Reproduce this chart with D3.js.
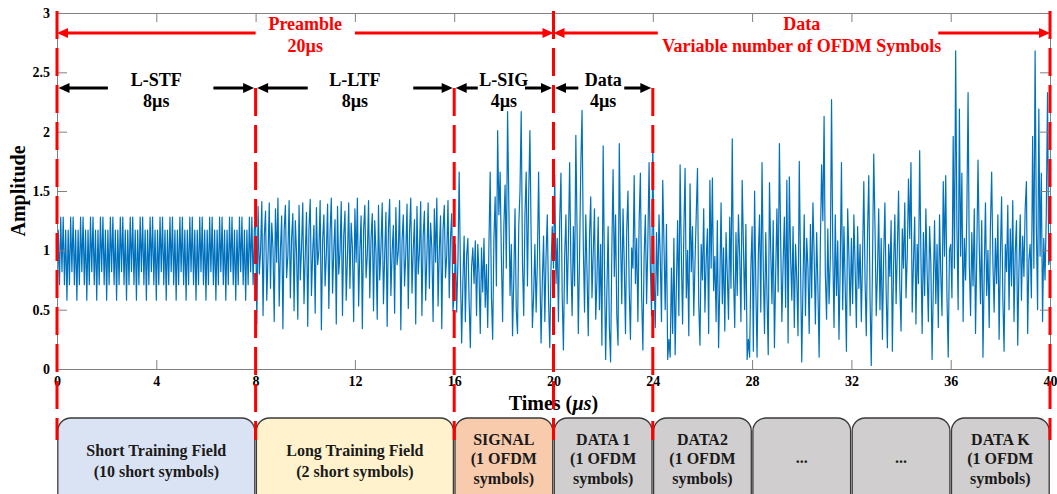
<!DOCTYPE html>
<html><head><meta charset="utf-8">
<script src="https://cdn.jsdelivr.net/npm/d3@7"></script>
<style>
html,body{margin:0;padding:0;background:#fff;}
svg{display:block;font-family:"Liberation Serif","Times New Roman",serif;}
</style></head><body>
<svg id="chart" width="1057" height="494"></svg>
<script>
// ---------------- DATA ----------------
const sampleStep = 0.05; // µs per sample (20 MHz)

// L-STF, 0-8 µs (160 samples)
const stfAmp = [
0.58,1.17,0.71,1.28,0.82,1.28,0.71,1.17, 0.58,1.17,0.71,1.28,0.82,1.28,0.71,1.17,
0.58,1.17,0.71,1.28,0.82,1.28,0.71,1.17, 0.58,1.17,0.71,1.28,0.82,1.28,0.71,1.17,
0.58,1.17,0.71,1.28,0.82,1.28,0.71,1.17, 0.58,1.17,0.71,1.28,0.82,1.28,0.71,1.17,
0.58,1.17,0.71,1.28,0.82,1.28,0.71,1.17, 0.58,1.17,0.71,1.28,0.82,1.28,0.71,1.17,
0.58,1.17,0.71,1.28,0.82,1.28,0.71,1.17, 0.58,1.17,0.71,1.28,0.82,1.28,0.71,1.17,
0.58,1.17,0.71,1.28,0.82,1.28,0.71,1.17, 0.58,1.17,0.71,1.28,0.82,1.28,0.71,1.17,
0.58,1.17,0.71,1.28,0.82,1.28,0.71,1.17, 0.58,1.17,0.71,1.28,0.82,1.28,0.71,1.17,
0.58,1.17,0.71,1.28,0.82,1.28,0.71,1.17, 0.58,1.17,0.71,1.28,0.82,1.28,0.71,1.17,
0.58,1.17,0.71,1.28,0.82,1.28,0.71,1.17, 0.58,1.17,0.71,1.28,0.82,1.28,0.71,1.17,
0.58,1.17,0.71,1.28,0.82,1.28,0.71,1.17, 0.58,1.17,0.71,1.28,0.82,1.28,0.71,1.17
];

// L-LTF, 8-16 µs (160 samples)
const ltfAmp = [
1.26,0.38,1.37,0.80,0.99,1.41,0.45,1.12,1.33,0.58,0.95,1.40,0.68,1.23,1.02,0.40,
1.35,0.90,1.44,0.53,1.00,1.29,0.34,1.17,1.38,0.77,0.96,1.42,0.60,1.10,1.31,0.49,
1.25,0.98,0.42,1.38,0.75,1.02,1.40,0.55,0.96,1.32,0.36,1.18,1.43,0.62,0.99,1.21,
0.47,1.36,0.88,1.00,1.42,0.33,1.08,1.30,0.70,0.97,1.39,0.51,1.15,1.44,0.64,1.01,
1.26,0.38,1.37,0.80,0.99,1.41,0.45,1.12,1.33,0.58,0.95,1.40,0.68,1.23,1.02,0.40,
1.35,0.90,1.44,0.53,1.00,1.29,0.34,1.17,1.38,0.77,0.96,1.42,0.60,1.10,1.31,0.49,
1.25,0.98,0.42,1.38,0.75,1.02,1.40,0.55,0.96,1.32,0.36,1.18,1.43,0.62,0.99,1.21,
0.47,1.36,0.88,1.00,1.42,0.33,1.08,1.30,0.70,0.97,1.39,0.51,1.15,1.44,0.64,1.01,
1.26,0.38,1.37,0.80,0.99,1.41,0.45,1.12,1.33,0.58,0.95,1.40,0.68,1.23,1.02,0.40,
1.35,0.90,1.44,0.53,1.00,1.29,0.34,1.17,1.38,0.77,0.96,1.42,0.60,1.10,1.31,0.49
];

// L-SIG, 16-20 µs (80 samples)
const sigAmp = [
0.62,1.05,0.48,0.90,1.66,0.85,0.22,0.74,1.12,0.40,0.95,1.10,0.58,0.18,0.86,1.02,
0.72,1.08,0.45,1.05,0.80,0.30,1.02,0.65,1.10,0.52,0.88,0.35,1.05,1.66,0.60,0.25,
1.10,1.45,0.70,2.01,1.30,1.66,0.95,0.40,1.20,1.55,0.85,2.17,1.40,0.62,1.05,0.28,
0.75,1.35,0.50,0.30,1.20,1.50,2.17,0.90,0.45,1.30,1.66,0.70,1.45,2.01,1.10,0.35,
0.62,1.05,0.48,0.90,1.66,0.85,0.22,0.74,1.12,0.40,0.95,1.30,0.58,0.18,0.86,1.20
];

// Data symbols, 20-40 µs (401 samples)
const dataAmp = [
// DATA 1 (20-24)
0.85,1.63,0.72,1.10,0.40,1.25,1.65,0.62,0.16,0.95,1.30,0.55,1.05,1.74,0.88,0.45,
1.20,0.70,1.97,1.15,0.30,0.95,1.72,2.18,1.05,0.48,1.30,0.82,0.28,1.12,1.45,0.60,
0.98,1.35,0.42,0.75,1.28,0.50,1.05,0.20,1.88,0.90,0.08,0.65,1.20,0.35,0.06,1.00,
1.68,0.78,1.30,0.45,0.20,1.90,1.10,0.55,1.35,0.88,0.30,1.18,1.50,0.66,0.25,1.02,
0.85,1.63,0.72,1.10,0.40,1.25,1.65,0.62,0.16,0.95,1.30,0.55,1.05,1.74,0.88,0.45,
// DATA 2 (24-28)
1.94,0.80,0.35,1.15,0.62,1.30,0.95,0.40,1.59,1.05,0.50,1.22,0.08,0.25,0.10,0.85,
0.30,1.10,0.12,0.70,1.25,0.45,1.72,0.95,0.38,1.15,1.69,0.60,1.00,0.28,1.56,0.82,
1.20,0.45,0.90,1.30,1.69,0.55,0.20,1.05,0.75,1.35,0.48,0.92,1.18,0.30,1.59,0.85,
1.61,0.66,0.95,0.40,1.25,0.18,0.72,1.40,0.55,1.02,0.32,1.15,0.80,0.42,1.28,0.68,
1.94,0.80,0.35,1.15,0.62,1.30,0.95,0.40,1.59,1.05,0.50,1.22,0.08,0.25,0.10,0.85,
// DATA 3 (28-32)
1.20,0.15,1.50,0.70,0.10,0.95,1.30,0.48,1.74,0.85,0.30,1.15,0.62,0.12,1.57,1.00,
0.55,1.25,0.18,0.80,1.35,0.65,1.90,1.10,0.40,0.90,1.28,0.52,1.59,0.22,1.62,0.95,
0.58,1.20,0.35,1.05,0.75,0.28,1.75,0.90,0.06,0.72,1.30,0.45,1.10,0.85,0.30,1.22,
0.60,1.40,0.95,0.38,1.15,0.70,0.10,1.05,1.72,1.25,2.13,0.80,0.42,1.18,0.55,0.92,
2.27,1.00,0.35,1.30,0.62,1.08,0.25,0.88,1.74,0.50,1.20,0.70,0.15,1.35,0.95,0.45,
// DATA 4 (32-36)
1.10,0.55,1.30,0.85,0.35,1.20,0.68,1.05,0.40,0.95,1.58,0.75,0.28,1.15,1.63,0.60,
0.03,0.90,1.81,1.20,0.45,0.82,1.35,0.50,1.10,0.25,0.95,1.40,0.65,0.18,1.05,0.78,
1.25,0.15,0.88,1.30,0.55,1.00,1.50,0.70,0.32,1.18,0.85,1.40,0.60,0.95,1.60,1.10,
1.74,0.48,0.90,1.28,0.38,1.05,0.72,1.84,0.95,0.30,1.15,0.62,1.35,0.82,0.40,1.20,
0.90,0.08,0.70,1.25,0.55,1.05,0.35,1.30,0.80,0.45,1.58,0.95,1.63,0.60,0.10,1.00,
// DATA K (36-40)
1.05,0.60,1.96,0.85,2.68,1.20,0.50,2.19,0.95,1.65,0.40,1.10,0.75,1.30,2.33,0.88,
0.45,1.15,0.70,1.35,0.30,0.95,1.76,1.05,0.55,1.25,0.10,0.80,1.40,0.62,1.00,0.35,
1.20,1.66,0.90,0.48,1.10,0.72,1.30,0.25,0.95,1.45,0.60,0.15,1.05,0.82,1.38,0.50,
1.18,0.70,1.42,0.40,0.98,1.25,0.20,0.85,1.30,0.58,1.12,0.78,1.35,1.58,0.30,0.92,
1.05,0.60,1.96,0.85,2.68,1.20,0.50,2.19,0.95,1.65,0.40,1.10,0.75,1.30,2.33,0.88,
0.95
];

const xTicks = [0,4,8,12,16,20,24,28,32,36,40];
const yTicks = [0,0.5,1,1.5,2,2.5,3];
const xLabelMain = "Times (";
const xLabelUnit = "\u00b5s";
const yLabel = "Amplitude";

// red dashed boundaries (µs) and whether they reach the top of the axes
const boundaryTimes = [0, 8, 16, 20, 24, 40];
const boundaryFull  = [true, false, false, true, false, true];

// red spans (top annotations)
const spanStart = [0, 20];
const spanEnd   = [20, 40];
const spanTitle = ["Preamble", "Data"];
const spanSub   = ["20\u00b5s", "Variable number of OFDM Symbols"];

// black field spans
const fieldStart = [0, 8, 16, 20];
const fieldEnd   = [8, 16, 20, 24];
const fieldName  = ["L-STF", "L-LTF", "L-SIG", "Data"];
const fieldDur   = ["8\u00b5s", "8\u00b5s", "4\u00b5s", "4\u00b5s"];

// bottom boxes
const boxStart = [0, 8, 16, 20, 24, 28, 32, 36];
const boxEnd   = [8, 16, 20, 24, 28, 32, 36, 40];
const boxText  = [
  ["Short Training Field", "(10 short symbols)"],
  ["Long Training Field", "(2 short symbols)"],
  ["SIGNAL", "(1 OFDM", "symbols)"],
  ["DATA 1", "(1 OFDM", "symbols)"],
  ["DATA2", "(1 OFDM", "symbols)"],
  ["..."],
  ["..."],
  ["DATA K", "(1 OFDM", "symbols)"]
];
const boxFill = ["#dae3f3", "#fff2cc", "#f8cbad", "#d0cece", "#d0cece", "#d0cece", "#d0cece", "#d0cece"];

// ---------------- DRAW ----------------
const svg = d3.select("#chart");
const x = d3.scaleLinear().domain([0, 40]).range([57, 1050]);
const y = d3.scaleLinear().domain([0, 3]).range([369, 13]);
const axisColor = "#808080";

const amplitude = [].concat(stfAmp, ltfAmp, sigAmp, dataAmp);
const series = amplitude.map((v, i) => ({t: i * sampleStep, v}));

// clip
svg.append("defs").append("clipPath").attr("id", "plotClip")
  .append("rect").attr("x", x(0)).attr("y", y(3)).attr("width", x(40) - x(0)).attr("height", y(0) - y(3));

// signal
svg.append("path")
  .datum(series)
  .attr("clip-path", "url(#plotClip)")
  .attr("fill", "none")
  .attr("stroke", "#0072bd")
  .attr("stroke-width", 1.2)
  .attr("stroke-linejoin", "round")
  .attr("d", d3.line().x(d => x(d.t)).y(d => y(d.v)));

// axes
function styleAxis(g, fs) {
  g.select(".domain").attr("stroke", axisColor).attr("stroke-width", 1);
  g.selectAll(".tick line").attr("stroke", axisColor).attr("stroke-width", 1);
  g.selectAll(".tick text").attr("fill", "#000").attr("font-size", fs).attr("font-weight", "bold")
    .attr("font-family", '"Liberation Serif","Times New Roman",serif');
}
svg.append("g").attr("transform", `translate(0,${y(0)})`)
  .call(d3.axisBottom(x).tickValues(xTicks).tickSizeInner(-9).tickSizeOuter(0).tickPadding(7).tickFormat(d3.format("d")))
  .call(g => styleAxis(g, 14));
svg.append("g").attr("transform", `translate(0,${y(3)})`)
  .call(d3.axisTop(x).tickValues(xTicks).tickSizeInner(-9).tickSizeOuter(0).tickFormat(""))
  .call(g => styleAxis(g, 14));
svg.append("g").attr("transform", `translate(${x(0)},0)`)
  .call(d3.axisLeft(y).tickValues(yTicks).tickSizeInner(-10).tickSizeOuter(0).tickPadding(7).tickFormat(d => String(d)))
  .call(g => styleAxis(g, 14));
svg.append("g").attr("transform", `translate(${x(40)},0)`)
  .call(d3.axisRight(y).tickValues(yTicks).tickSizeInner(-10).tickSizeOuter(0).tickFormat(""))
  .call(g => styleAxis(g, 14));

// axis labels
const xl = svg.append("text").attr("x", (x(0) + x(40)) / 2).attr("y", 410)
  .attr("text-anchor", "middle").attr("font-size", 20).attr("font-weight", "bold").attr("fill", "#000");
xl.append("tspan").text(xLabelMain);
xl.append("tspan").attr("font-style", "italic").text(xLabelUnit);
xl.append("tspan").text(")");
svg.append("text").attr("transform", `translate(25,${(y(0) + y(3)) / 2}) rotate(-90)`)
  .attr("text-anchor", "middle").attr("font-size", 20).attr("font-weight", "bold").attr("fill", "#000")
  .text(yLabel);

// bottom boxes
const boxTop = 418;
const boxG = svg.append("g");
boxStart.forEach((s, i) => {
  const x0 = x(s) + 0.8, x1 = x(boxEnd[i]) - 0.8;
  boxG.append("rect").attr("x", x0).attr("y", boxTop).attr("width", x1 - x0).attr("height", 100)
    .attr("rx", 13).attr("ry", 13).attr("fill", boxFill[i]).attr("stroke", "#3a3a3a").attr("stroke-width", 1.3);
  const lines = boxText[i];
  const cx = (x0 + x1) / 2;
  let ys;
  if (lines.length === 3) ys = [445, 464, 484];
  else if (lines.length === 2) ys = [456, 477];
  else ys = [463];
  lines.forEach((ln, j) => {
    boxG.append("text").attr("x", cx).attr("y", ys[j]).attr("text-anchor", "middle")
      .attr("font-size", 16).attr("font-weight", "bold").attr("fill", "#1a1a1a").text(ln);
  });
});

// arrow helpers
function arrowHead(g, xe, yy, dir, color) {
  const L = 11, H = 5;
  g.append("path").attr("d", `M${xe},${yy} L${xe - dir * L},${yy - H} L${xe - dir * L},${yy + H} Z`).attr("fill", color);
}
function segArrow(g, xs, xe, yy, color, width) {
  const dir = xe > xs ? 1 : -1;
  g.append("line").attr("x1", xs).attr("x2", xe - dir * 8).attr("y1", yy).attr("y2", yy)
    .attr("stroke", color).attr("stroke-width", width);
  arrowHead(g, xe, yy, dir, color);
}

// red spans
const red = "#ff0000";
const redG = svg.append("g");
const redY = 33;
spanStart.forEach((s, i) => {
  const e = spanEnd[i];
  const mid = i === 0 ? 10 : 30;
  const leftEnd = i === 0 ? 8 : 24.2;
  const rightStart = i === 0 ? 12 : 35.5;
  segArrow(redG, x(leftEnd), x(s), redY, red, 3);
  segArrow(redG, x(rightStart), x(e), redY, red, 3);
  redG.append("text").attr("x", x(mid)).attr("y", 30).attr("text-anchor", "middle")
    .attr("font-size", 18).attr("font-weight", "bold").attr("fill", red).text(spanTitle[i]);
  redG.append("text").attr("x", x(mid)).attr("y", 52).attr("text-anchor", "middle")
    .attr("font-size", 18).attr("font-weight", "bold").attr("fill", red).text(spanSub[i]);
});

// black field spans
const blkG = svg.append("g");
const blkY = 88;
const fieldTextT = [4, 12, 18, 22];
const fieldLeftEnd = [2.05, 10.1, 16.95, 21.0];
const fieldRightStart = [6.3, 14.35, 18.85, 22.85];
fieldStart.forEach((s, i) => {
  segArrow(blkG, x(fieldLeftEnd[i]), x(s) + 1.5, blkY, "#000", 3);
  segArrow(blkG, x(fieldRightStart[i]), x(fieldEnd[i]) - 1.5, blkY, "#000", 3);
  blkG.append("text").attr("x", x(fieldTextT[i])).attr("y", 86).attr("text-anchor", "middle")
    .attr("font-size", 18).attr("font-weight", "bold").attr("fill", "#000").text(fieldName[i]);
  blkG.append("text").attr("x", x(fieldTextT[i])).attr("y", 107).attr("text-anchor", "middle")
    .attr("font-size", 18).attr("font-weight", "bold").attr("fill", "#000").text(fieldDur[i]);
});

// red dashed boundary lines
boundaryTimes.forEach((t, i) => {
  svg.append("line").attr("x1", x(t)).attr("x2", x(t))
    .attr("y1", boundaryFull[i] ? 11 : blkY).attr("y2", 440)
    .attr("stroke", red).attr("stroke-width", 3).attr("stroke-dasharray", "28,9");
});
</script></body></html>
